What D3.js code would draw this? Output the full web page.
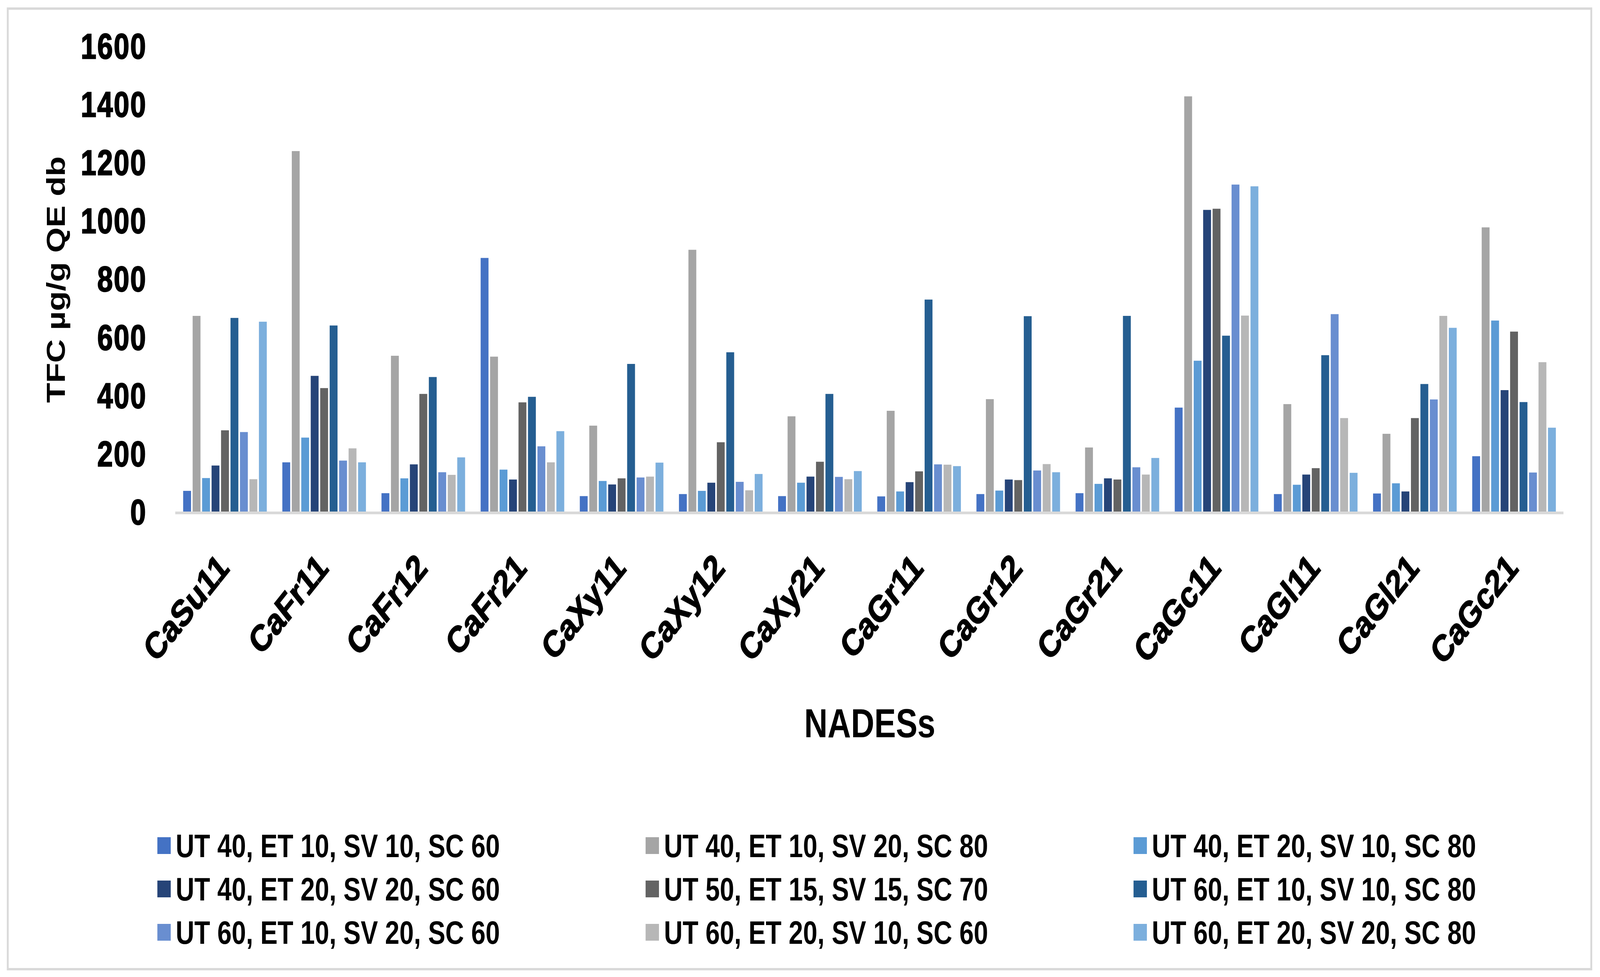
<!DOCTYPE html>
<html>
<head>
<meta charset="utf-8">
<script src="https://cdn.jsdelivr.net/npm/d3@7"></script>
<style>
    html, body { margin: 0; padding: 0; background: #fff; overflow: hidden; }
    #chart svg { display: block; width: 100vw; height: 100vh; }
    text { font-family: "Liberation Sans", Arial, sans-serif; font-weight: bold; fill: #000; }
</style>
</head>
<body>
<div id="chart"></div>
<script>
        // NADES categories on the x axis
        const categories = ["CaSu11", "CaFr11", "CaFr12", "CaFr21", "CaXy11", "CaXy12", "CaXy21",
            "CaGr11", "CaGr12", "CaGr21", "CaGc11", "CaGl11", "CaGl21", "CaGc21"];

        const seriesNames = [
            "UT 40, ET 10, SV 10, SC 60", "UT 40, ET 10, SV 20, SC 80", "UT 40, ET 20, SV 10, SC 80",
            "UT 40, ET 20, SV 20, SC 60", "UT 50, ET 15, SV 15, SC 70", "UT 60, ET 10, SV 10, SC 80",
            "UT 60, ET 10, SV 20, SC 60", "UT 60, ET 20, SV 10, SC 60", "UT 60, ET 20, SV 20, SC 80"
        ];

        const seriesColors = ["#4472C4", "#A5A5A5", "#5B9BD5", "#264478", "#636363",
            "#255E91", "#698ED0", "#B7B7B7", "#7CAFDD"];

        // TFC values (µg/g QE db), one array per condition, in category order
        const ut40et10sv10sc60 = [71, 169, 63, 871, 53, 60, 53, 52, 60, 63, 357, 60, 62, 190];
        const ut40et10sv20sc80 = [672, 1238, 535, 532, 295, 899, 327, 346, 386, 220, 1426, 369, 267, 976];
        const ut40et20sv10sc80 = [115, 254, 114, 144, 105, 71, 99, 69, 72, 95, 518, 92, 97, 656];
        const ut40et20sv20sc60 = [158, 466, 162, 110, 93, 99, 120, 101, 110, 114, 1036, 127, 69, 417];
        const ut50et15sv15sc70 = [279, 424, 404, 375, 114, 238, 171, 138, 108, 110, 1040, 149, 321, 618];
        const ut60et10sv10sc80 = [665, 639, 462, 394, 507, 547, 404, 728, 671, 672, 604, 537, 438, 376];
        const ut60et10sv20sc60 = [273, 175, 135, 224, 117, 102, 119, 162, 141, 152, 1123, 678, 385, 134];
        const ut60et20sv10sc60 = [111, 217, 126, 169, 120, 73, 111, 161, 163, 127, 673, 321, 672, 513];
        const ut60et20sv20sc80 = [652, 169, 186, 276, 168, 129, 139, 156, 135, 184, 1117, 133, 631, 288];

        const yTicks = [0, 200, 400, 600, 800, 1000, 1200, 1400, 1600];

        const seriesValues = [ut40et10sv10sc60, ut40et10sv20sc80, ut40et20sv10sc80, ut40et20sv20sc60,
            ut50et15sv15sc70, ut60et10sv10sc80, ut60et10sv20sc60, ut60et20sv10sc60, ut60et20sv20sc80];

        const width = 5145;
        const height = 2502;

        // the drawing is laid out on a 5145x2502 canvas and stretched to the window
        const svg = d3.select("#chart")
            .append("svg")
            .attr("viewBox", `0 0 ${width} ${height}`)
            .attr("preserveAspectRatio", "none");

        svg.append("rect")
            .attr("width", width)
            .attr("height", height)
            .attr("fill", "#fff");

        // outer chart border
        svg.append("rect")
            .attr("x", 25)
            .attr("y", 22)
            .attr("width", 5117 - 25)
            .attr("height", 2482 - 22)
            .attr("fill", "none")
            .attr("stroke", "#d9d9d9")
            .attr("stroke-width", 6);

        const x0 = d3.scaleBand()
            .domain(categories)
            .range([563, 5027])
            .padding(0);

        const x1 = d3.scaleBand()
            .domain(d3.range(seriesNames.length))
            .range([26, x0.bandwidth() - 24])
            .paddingInner(0.17);

        const y = d3.scaleLinear()
            .domain([0, 1600])
            .range([1310, 117]);

        // bars
        const groups = svg.append("g")
            .selectAll("g")
            .data(categories)
            .join("g")
            .attr("transform", d => `translate(${x0(d)},0)`);

        groups.selectAll("rect")
            .data((c, ci) => seriesValues.map((vals, si) => ({ si, value: vals[ci] })))
            .join("rect")
            .attr("x", d => x1(d.si))
            .attr("y", d => y(d.value))
            .attr("width", x1.bandwidth())
            .attr("height", d => y(0) - y(d.value))
            .attr("fill", d => seriesColors[d.si]);

        // y axis (labels only)
        const yAxis = svg.append("g")
            .attr("transform", "translate(563,0)")
            .call(d3.axisLeft(y).tickValues(yTicks).tickFormat(d3.format("d")).tickSize(0).tickPadding(91));
        yAxis.select(".domain").remove();
        yAxis.selectAll("text")
            .attr("dy", "0.36em")
            .style("font-size", "90px")
            .style("letter-spacing", "3px")
            .style("font-family", "\"Liberation Sans\", Arial, sans-serif")
            .style("font-weight", "bold")
            .attr("fill", "#000")
            .attr("stroke", "#000")
            .attr("stroke-width", 2.5);

        // x axis with rotated category labels
        const xAxis = svg.append("g")
            .attr("transform", "translate(0,1313)")
            .call(d3.axisBottom(x0).tickSize(0).tickSizeOuter(0));
        xAxis.select(".domain")
            .attr("stroke", "#d9d9d9")
            .attr("stroke-width", 7);
        xAxis.selectAll("text")
            .attr("y", null)
            .attr("dy", null)
            .attr("text-anchor", "end")
            .attr("transform", "translate(19,146) rotate(-45)")
            .style("font-size", "94px")
            .style("font-family", "\"Liberation Sans\", Arial, sans-serif")
            .style("font-weight", "bold")
            .attr("fill", "#000")
            .attr("stroke", "#000")
            .attr("stroke-width", 2.5);

        // axis titles
        svg.append("text")
            .attr("transform", "translate(209,716) rotate(-90)")
            .attr("text-anchor", "middle")
            .style("font-size", "84px")
            .text("TFC µg/g QE db");

        svg.append("text")
            .attr("x", 2797)
            .attr("y", 1888)
            .attr("text-anchor", "middle")
            .style("font-size", "104px")
            .text("NADESs");

        // legend: 3 columns x 3 rows
        const legendCols = [506, 2076, 3645];
        const legendRows = [2165, 2276, 2387];

        const legend = svg.append("g")
            .selectAll("g")
            .data(seriesNames)
            .join("g")
            .attr("transform", (d, i) => `translate(${legendCols[i % 3]},${legendRows[Math.floor(i / 3)]})`);

        legend.append("rect")
            .attr("x", 0)
            .attr("y", -21)
            .attr("width", 43)
            .attr("height", 43)
            .attr("fill", (d, i) => seriesColors[i]);

        legend.append("text")
            .attr("x", 59)
            .attr("y", 30)
            .style("font-size", "83px")
            .text(d => d);
</script>
</body>
</html>
